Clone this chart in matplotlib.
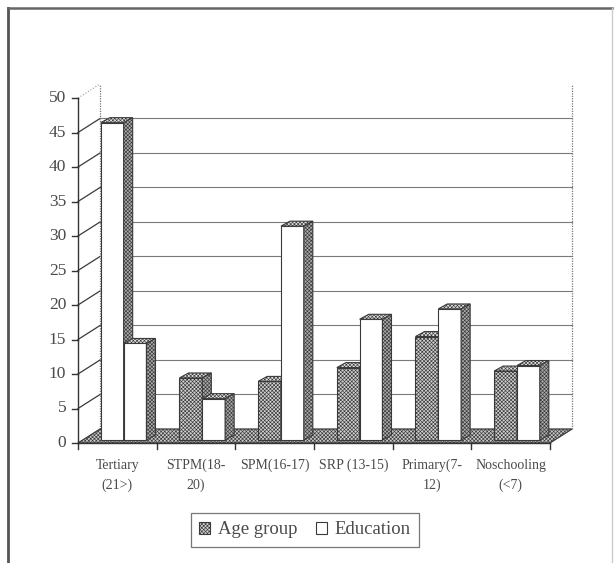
import matplotlib
matplotlib.use("Agg")
import matplotlib.pyplot as plt
from matplotlib.patches import Polygon, Patch
from matplotlib.lines import Line2D

plt.rcParams['font.family'] = ['Liberation Serif', 'DejaVu Serif']
plt.rcParams['hatch.color'] = '#8a8a8a'
plt.rcParams['hatch.linewidth'] = 0.45

categories = ["Tertiary\n(21>)", "STPM(18-\n20)", "SPM(16-17)",
              "SRP (13-15)", "Primary(7-\n12)", "Noschooling\n(<7)"]
age_group = [46, 9, 8.5, 10.5, 15, 10]
education = [14, 6, 31, 17.5, 19, 10.8]
series_names = ["Age group", "Education"]
# the first age-group bar is shown unfilled in the source chart
age_filled = [False, True, True, True, True, True]
y_ticks = list(range(0, 55, 5))

EDGE = '#3a3a3a'
TEXT = '#4a4a4a'
HATCH = 'xxxxxxxxx'

fig = plt.figure(figsize=(6.15, 5.63), dpi=100)
ax = fig.add_axes([78 / 615, (563 - 443) / 563, (550 - 78) / 615, (443 - 98) / 563])
ax.set_xlim(0, len(categories))
ax.set_ylim(0, 50)
ax.axis('off')

# pseudo-3d geometry (data units)
wall_dx, wall_dy = 0.28, 2.03
bar_dx, bar_dy = 0.115, 0.72
bar_lift = 0.43
bar_off, bar_w = 0.29, 0.29
n = len(categories)


def poly(pts, fc, hatch=None, lw=0.8, z=2):
    p = Polygon(pts, closed=True, facecolor=fc, edgecolor=EDGE, hatch=hatch,
                linewidth=lw, clip_on=False, zorder=z)
    ax.add_patch(p)


# floor
poly([(0, 0), (n, 0), (n + wall_dx, wall_dy), (wall_dx, wall_dy)],
     '#c8c8c8', hatch=HATCH, lw=0.9, z=1)

# back wall gridlines and left wall ticks
for v in y_ticks[1:]:
    if v < 50:
        ax.plot([wall_dx, n + wall_dx], [v + wall_dy, v + wall_dy], color='#7a7a7a',
                lw=0.8, clip_on=False, zorder=0.5)
        ax.plot([0, wall_dx], [v, v + wall_dy], color='#3a3a3a', lw=0.9,
                clip_on=False, zorder=0.5)
    else:
        ax.plot([0, wall_dx], [v, v + wall_dy], color='#999999', lw=0.8, ls=':',
                clip_on=False, zorder=0.5)
for xw in (wall_dx, n + wall_dx):
    ax.plot([xw, xw], [wall_dy, 50 + wall_dy], color='#777777', lw=0.9, ls=(0, (1, 1)),
            clip_on=False, zorder=0.5)

# bars
for i in range(n):
    for j, (val, kind) in enumerate(((age_group[i], 'age'), (education[i], 'edu'))):
        x0 = i + bar_off + j * bar_w
        x1 = x0 + bar_w
        y0 = bar_lift
        y1 = bar_lift + val
        if kind == 'age' and age_filled[i]:
            front = ('#d0d0d0', HATCH)
        else:
            front = ('white', None)
        z = 3 + i * 2 + j
        poly([(x0, y0), (x1, y0), (x1, y1), (x0, y1)], front[0], front[1], z=z)
        poly([(x0, y1), (x1, y1), (x1 + bar_dx, y1 + bar_dy), (x0 + bar_dx, y1 + bar_dy)],
             '#e0e0e0', HATCH, z=z)
        poly([(x1, y0), (x1 + bar_dx, y0 + bar_dy), (x1 + bar_dx, y1 + bar_dy), (x1, y1)],
             '#ababab', HATCH, z=z)

# front axes
ax.plot([0, 0], [0, 50], color='#333333', lw=1.0, clip_on=False, zorder=20)
ax.plot([0, n], [0, 0], color='#333333', lw=1.0, clip_on=False, zorder=20)
for v in y_ticks:
    ax.plot([-0.07, 0], [v, v], color='#333333', lw=1.0, clip_on=False, zorder=20)
    ax.text(-0.15, v, str(v), ha='right', va='center', fontsize=12.5, color=TEXT)
for k in range(n + 1):
    ax.plot([k, k], [0, -0.9], color='#333333', lw=1.0, clip_on=False, zorder=20)
for i, lab in enumerate(categories):
    ax.text(i + 0.5, -2.3, lab, ha='center', va='top', fontsize=10, color=TEXT,
            linespacing=1.6)

# legend
handles = [Patch(facecolor='#d0d0d0', edgecolor=EDGE, hatch=HATCH, lw=0.8),
           Patch(facecolor='white', edgecolor=EDGE, lw=0.8)]
leg = fig.legend(handles, series_names, loc='center',
                 bbox_to_anchor=(305 / 615, 1 - 530 / 563), ncol=2, fontsize=13.5,
                 frameon=True, fancybox=False, handlelength=0.6, handleheight=0.6,
                 handletextpad=0.4, columnspacing=1.0, borderpad=0.45)
leg.get_frame().set_edgecolor('#555555')
leg.get_frame().set_linewidth(0.9)
for t in leg.get_texts():
    t.set_color(TEXT)

# outer chart border
fig.add_artist(Line2D([8 / 615, 8 / 615], [0, 1 - 8 / 563], transform=fig.transFigure,
                      color='#555555', lw=2.0))
fig.add_artist(Line2D([8 / 615, 612 / 615], [1 - 8 / 563, 1 - 8 / 563],
                      transform=fig.transFigure, color='#666666', lw=1.8))
fig.add_artist(Line2D([612 / 615, 612 / 615], [0, 1 - 8 / 563], transform=fig.transFigure,
                      color='#cccccc', lw=1.0))

fig.savefig("out.png", dpi=100)
